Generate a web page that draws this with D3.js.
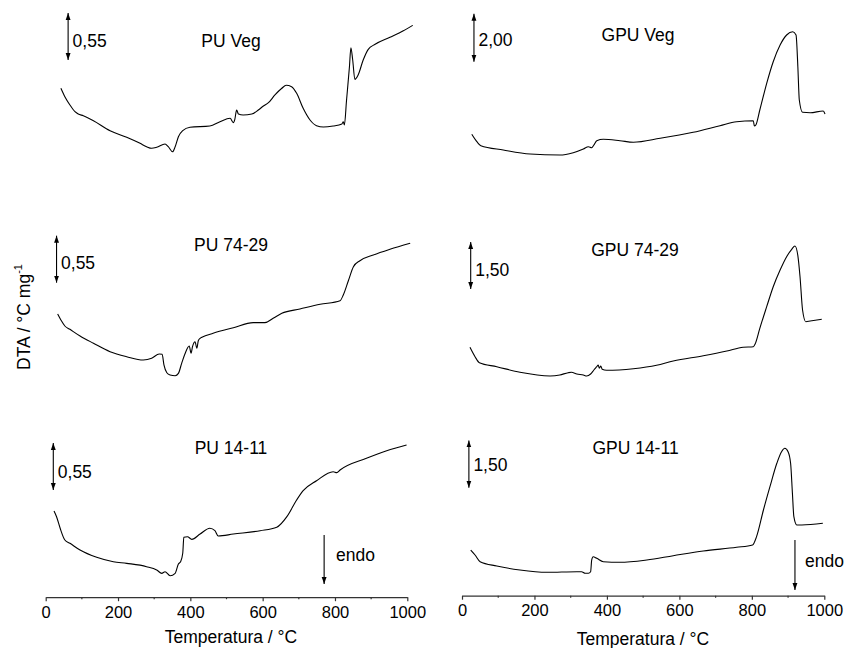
<!DOCTYPE html>
<html>
<head>
<meta charset="utf-8">
<script src="https://cdn.jsdelivr.net/npm/d3@7"></script>
<style>
  body { margin: 0; background: #fff; }
  svg { display: block; font-family: "Liberation Sans", Arial, sans-serif; }
</style>
</head>
<body>
<svg id="chart" width="845" height="648"></svg>
<script>
"use strict";

// DTA curves: [temperature °C, DTA °C/mg (arbitrary offset)]
const puVeg = [[42,0.839],[53,0.741],[67,0.644],[81,0.565],[90,0.538],[104,0.518],[132,0.460],[178,0.343],[224,0.266],[261,0.195],[279,0.156],[293,0.137],[307,0.149],[330,0.187],[339,0.156],[351,0.097],[358,0.156],[367,0.273],[379,0.343],[399,0.383],[454,0.398],[482,0.448],[510,0.488],[519,0.437],[523,0.476],[528,0.585],[533,0.538],[546,0.527],[570,0.538],[588,0.585],[602,0.632],[616,0.671],[634,0.761],[653,0.839],[665,0.874],[680,0.858],[694,0.781],[712,0.605],[731,0.468],[749,0.401],[768,0.386],[795,0.398],[819,0.421],[823,0.448],[826,0.410],[832,0.702],[840,1.092],[844,1.314],[849,1.170],[855,0.944],[864,0.995],[878,1.170],[892,1.295],[911,1.354],[952,1.436],[989,1.513],[1015,1.576]];

const pu7429 = [[33,1.006],[42,0.936],[53,0.866],[67,0.827],[95,0.749],[132,0.664],[178,0.565],[224,0.507],[270,0.468],[293,0.488],[314,0.538],[322,0.535],[327,0.410],[335,0.319],[344,0.293],[358,0.284],[367,0.312],[376,0.429],[385,0.538],[397,0.632],[402,0.547],[406,0.624],[413,0.682],[418,0.605],[422,0.694],[427,0.722],[432,0.734],[463,0.781],[519,0.846],[574,0.905],[606,0.905],[629,0.956],[653,1.015],[703,1.065],[759,1.120],[814,1.162],[823,1.229],[837,1.396],[851,1.560],[869,1.630],[906,1.697],[952,1.764],[1008,1.834]];

const pu1411 = [[23,1.042],[30,0.975],[40,0.839],[53,0.702],[67,0.664],[95,0.585],[141,0.500],[187,0.448],[224,0.429],[279,0.390],[307,0.351],[321,0.312],[330,0.331],[344,0.284],[358,0.312],[367,0.421],[373,0.448],[379,0.547],[382,0.734],[392,0.741],[404,0.710],[427,0.772],[454,0.839],[468,0.811],[477,0.749],[519,0.772],[593,0.811],[639,0.851],[667,0.975],[694,1.170],[712,1.279],[749,1.396],[795,1.501],[805,1.490],[814,1.521],[887,1.658],[943,1.747],[998,1.814]];

const gpuVeg = [[27,1.071],[41,0.763],[52,0.596],[114,0.417],[188,0.250],[270,0.208],[307,0.304],[335,0.458],[349,0.554],[358,0.513],[364,0.625],[372,0.804],[390,0.863],[436,0.804],[473,0.738],[547,0.904],[638,1.154],[712,1.429],[758,1.596],[804,1.638],[807,1.417],[811,1.458],[822,2.083],[841,3.196],[859,4.096],[878,4.792],[896,5.208],[913,5.346],[922,5.208],[927,3.888],[931,2.500],[940,1.988],[961,1.971],[997,2.042],[1002,1.917]];

const gpu7429 = [[22,1.682],[36,1.382],[48,1.190],[96,1.063],[160,0.884],[243,0.766],[270,0.798],[293,0.871],[302,0.884],[317,0.830],[335,0.798],[344,0.766],[355,0.830],[364,0.958],[372,1.063],[376,1.117],[379,1.012],[383,1.085],[387,0.980],[399,0.948],[473,0.999],[537,1.108],[583,1.245],[666,1.414],[731,1.564],[776,1.682],[804,1.701],[809,1.787],[822,2.288],[841,2.978],[859,3.616],[878,4.149],[896,4.574],[910,4.810],[919,4.915],[927,4.606],[933,3.935],[940,2.873],[949,2.499],[961,2.521],[993,2.576]];

const gpu1411 = [[24,1.587],[36,1.429],[50,1.216],[96,1.079],[160,0.952],[234,0.879],[317,0.898],[330,0.898],[340,0.848],[349,0.848],[355,0.898],[358,1.270],[362,1.375],[372,1.324],[390,1.216],[436,1.197],[510,1.270],[583,1.406],[666,1.556],[758,1.673],[802,1.746],[813,2.010],[832,2.857],[850,3.597],[869,4.340],[882,4.708],[891,4.816],[900,4.708],[907,4.340],[912,3.387],[916,2.644],[924,2.381],[938,2.381],[996,2.435]];

const panelNames = ["PU Veg", "GPU Veg", "PU 74-29", "GPU 74-29", "PU 14-11", "GPU 14-11"];
const panelSeries = [puVeg, gpuVeg, pu7429, gpu7429, pu1411, gpu1411];
const scaleBarValues = [0.55, 2.00, 0.55, 1.50, 0.55, 1.50];
const scaleBarLabels = ["0,55", "2,00", "0,55", "1,50", "0,55", "1,50"];
// scale bar foot: [temperature, DTA]
const scaleBarFoot = [[62, 1.170], [33, 4.096], [30, 1.373], [24, 3.543], [21, 1.287], [19, 3.565]];
const xTicks = [0, 200, 400, 600, 800, 1000];
const xMinorTicks = [100, 300, 500, 700, 900];
const endoTemps = [770, 919];

// layout
const cols = [{x0: 45.7, x1: 407.3, axisY: 597.2, titleX: 231, titleY: 643},
              {x0: 462, x1: 824.3, axisY: 595.7, titleX: 643, titleY: 645}];
const rowBase = [160, 400, 600];
const barPx = [47, 48, 47, 47, 47, 47.25];
const barLabelDy = [4.5, 2.5, 4, 4.7, 5, 0.5];
const nameXY = [[231, 41], [638, 34.5], [231, 245], [635, 250], [231, 448], [635.5, 447.5]];
const endoY = [[535, 584, 336, 555], [540, 590, 805, 561]];

const svg = d3.select("#chart");

const defs = svg.append("defs");
function marker(id, orient) {
  defs.append("marker")
    .attr("id", id)
    .attr("viewBox", "0 0 10 10")
    .attr("refX", 10).attr("refY", 5)
    .attr("markerWidth", 7).attr("markerHeight", 7)
    .attr("markerUnits", "userSpaceOnUse")
    .attr("orient", orient)
    .append("path")
    .attr("d", "M0,1.5 L10,5 L0,8.5 Z")
    .attr("fill", "#000");
}
marker("arr", "auto");
marker("arrStart", "auto-start-reverse");

const xScales = cols.map(c => d3.scaleLinear().domain([0, 1000]).range([c.x0, c.x1]));

panelSeries.forEach((series, i) => {
  const col = i % 2, row = Math.floor(i / 2);
  const x = xScales[col];
  const ppu = barPx[i] / scaleBarValues[i];
  const y = d3.scaleLinear().domain([0, 1]).range([rowBase[row], rowBase[row] - ppu]);

  const line = d3.line()
    .x(d => x(d[0]))
    .y(d => y(d[1]))
    .curve(d3.curveMonotoneX);

  svg.append("path")
    .datum(series)
    .attr("d", line)
    .attr("fill", "none")
    .attr("stroke", "#000")
    .attr("stroke-width", 1.1)
    .attr("stroke-linejoin", "round");

  // scale bar
  const foot = scaleBarFoot[i];
  const bx = x(foot[0]);
  const yb = y(foot[1]), yt = y(foot[1] + scaleBarValues[i]);
  svg.append("line")
    .attr("x1", bx).attr("x2", bx)
    .attr("y1", yb).attr("y2", yt)
    .attr("stroke", "#000").attr("stroke-width", 1.1)
    .attr("marker-start", "url(#arrStart)")
    .attr("marker-end", "url(#arr)");
  svg.append("text")
    .attr("x", bx + 4.5)
    .attr("y", (yb + yt) / 2 + barLabelDy[i])
    .attr("dominant-baseline", "central")
    .style("font-size", "17.5px")
    .text(scaleBarLabels[i]);

  svg.append("text")
    .attr("x", nameXY[i][0])
    .attr("y", nameXY[i][1])
    .attr("text-anchor", "middle")
    .attr("dominant-baseline", "central")
    .style("font-size", "17.5px")
    .text(panelNames[i]);
});

// bottom axes
cols.forEach((c, k) => {
  const x = xScales[k];
  const g = svg.append("g")
    .attr("transform", `translate(0,${c.axisY})`)
    .call(d3.axisBottom(x).tickValues(xTicks).tickSize(4).tickSizeOuter(0).tickPadding(5).tickFormat(d3.format("d")));
  g.select(".domain").attr("stroke", "#333").attr("stroke-width", 1.2);
  g.selectAll(".tick line").attr("stroke", "#333").attr("stroke-width", 1.2);
  g.selectAll(".tick text").style("font-size", "16.5px").attr("fill", "#000").style("font-family", "Liberation Sans, Arial, sans-serif");
  g.selectAll(".minor")
    .data(xMinorTicks)
    .enter()
    .append("line")
    .attr("x1", d => x(d)).attr("x2", d => x(d))
    .attr("y1", 0).attr("y2", 2)
    .attr("stroke", "#333").attr("stroke-width", 1.2);

  svg.append("text")
    .attr("x", c.titleX)
    .attr("y", c.titleY)
    .attr("text-anchor", "middle")
    .style("font-size", "17.5px")
    .text("Temperatura / °C");

  // endo arrow
  const ex = x(endoTemps[k]);
  const ey = endoY[k];
  svg.append("line")
    .attr("x1", ex).attr("x2", ex)
    .attr("y1", ey[0]).attr("y2", ey[1])
    .attr("stroke", "#000").attr("stroke-width", 1.1)
    .attr("marker-end", "url(#arr)");
  svg.append("text")
    .attr("x", ey[2])
    .attr("y", ey[3])
    .attr("dominant-baseline", "central")
    .style("font-size", "17.5px")
    .text("endo");
});

// y label
const yl = svg.append("text")
  .attr("transform", "translate(24,317) rotate(-90)")
  .attr("text-anchor", "middle")
  .attr("dominant-baseline", "central")
  .style("font-size", "17.5px");
yl.append("tspan").text("DTA / °C mg");
yl.append("tspan").attr("dy", "-0.55em").style("font-size", "11px").text("-1");
</script>
</body>
</html>
